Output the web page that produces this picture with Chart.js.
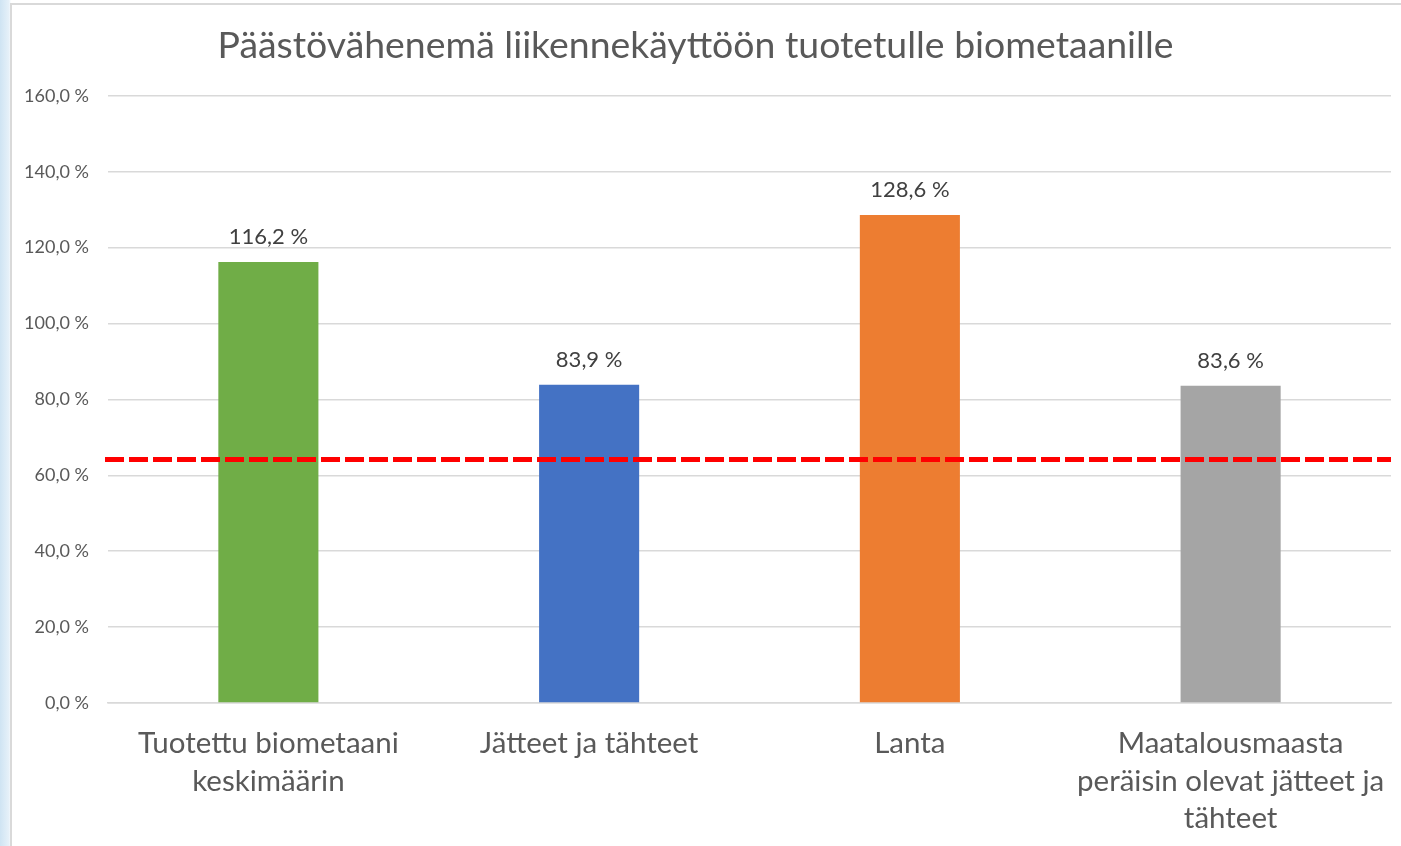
<!DOCTYPE html>
<html>
<head>
<meta charset="utf-8">
<script src="https://cdn.jsdelivr.net/npm/chart.js@4"></script>
<style>
  html, body { margin: 0; padding: 0; }
  body {
    width: 1401px; height: 846px; overflow: hidden; position: relative;
    background: linear-gradient(to right, #cfe4f3 0px, #e6f1f9 9px, #ffffff 11px);
  }
  .frame {
    position: absolute; left: 10px; top: 3px; width: 1400px; height: 860px;
    border: 2px solid #d9d9d9; background: #ffffff; box-sizing: border-box;
  }
  #chart { position: absolute; left: 0; top: 0; }
</style>
</head>
<body>
<div class="frame"></div>
<canvas id="chart" width="1401" height="846"></canvas>
<script>
// ─── data ──────────────────────────────────────────────
const chartTitle = "Päästövähenemä liikennekäyttöön tuotetulle biometaanille";
const categories = [
  ["Tuotettu biometaani", "keskimäärin"],
  "Jätteet ja tähteet",
  "Lanta",
  ["Maatalousmaasta", "peräisin olevat jätteet ja", "tähteet"]
];
const reductionValues = [116.2, 83.9, 128.6, 83.6];
const barColors = ["#70AD47", "#4472C4", "#ED7D31", "#A5A5A5"];
const thresholdValue = 64.2;   // punainen katkoviiva
const yTicksMax = 160;
const yTicksStep = 20;

const FONT = "Lato, 'Noto Sans', sans-serif";

function fmtPct(v) {
  return v.toFixed(1).replace(".", ",") + " %";
}

// ─── plugins ───────────────────────────────────────────
const thresholdLine = {
  id: "thresholdLine",
  afterDatasetsDraw(chart) {
    const { ctx, chartArea, scales } = chart;
    const y = scales.y.getPixelForValue(thresholdValue);
    ctx.save();
    ctx.strokeStyle = "#FF0000";
    ctx.lineWidth = 5;
    ctx.setLineDash([19, 5]);
    ctx.beginPath();
    ctx.moveTo(chartArea.left - 3, y);
    ctx.lineTo(chartArea.right, y);
    ctx.stroke();
    ctx.restore();
  }
};

const barLabels = {
  id: "barLabels",
  afterDraw(chart) {
    const { ctx } = chart;
    const meta = chart.getDatasetMeta(0);
    ctx.save();
    ctx.font = "22px " + FONT;
    ctx.fillStyle = "#404040";
    ctx.textAlign = "center";
    ctx.textBaseline = "middle";
    meta.data.forEach((bar, i) => {
      ctx.fillText(fmtPct(reductionValues[i]), bar.x, bar.y - 25);
    });
    ctx.restore();
  }
};

// ─── chart ─────────────────────────────────────────────
new Chart(document.getElementById("chart"), {
  type: "bar",
  data: {
    labels: categories,
    datasets: [{
      data: reductionValues,
      backgroundColor: barColors,
      borderWidth: 0,
      barPercentage: 0.312,
      categoryPercentage: 1
    }]
  },
  options: {
    responsive: false,
    animation: false,
    layout: { padding: { left: 0, right: 10, top: 0, bottom: 0 } },
    plugins: {
      legend: { display: false },
      tooltip: { enabled: false },
      title: {
        display: true,
        text: chartTitle,
        color: "#595959",
        font: { family: FONT, size: 37.4, weight: "normal" },
        padding: { top: 23, bottom: 28 }
      }
    },
    scales: {
      x: {
        afterFit(scale) {
          scale.height = 143;
          scale.paddingLeft = 0;
          scale.paddingRight = 0;
        },
        grid: { display: false },
        border: { color: "#d9d9d9", width: 1.5 },
        ticks: {
          color: "#595959",
          font: { family: FONT, size: 29.5, lineHeight: 1.27 },
          padding: 14,
          maxRotation: 0,
          autoSkip: false
        }
      },
      y: {
        min: 0,
        max: yTicksMax,
        afterFit(scale) { scale.width = 108; },
        grid: { color: "#d9d9d9", lineWidth: 1.5, drawTicks: false },
        border: { display: false },
        ticks: {
          stepSize: yTicksStep,
          color: "#595959",
          font: { family: FONT, size: 18 },
          padding: 19,
          callback: v => fmtPct(v)
        }
      }
    }
  },
  plugins: [thresholdLine, barLabels]
});
</script>
</body>
</html>
